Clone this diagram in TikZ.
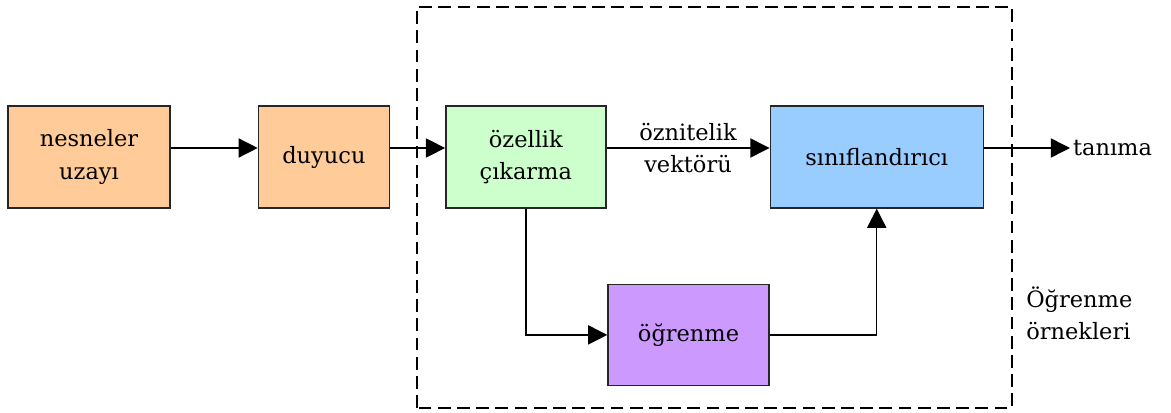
\documentclass[tikz,border=0pt]{standalone}
\usepackage{fontspec}
\setmainfont{DejaVu Serif}
\usepackage{tikz}
\usetikzlibrary{positioning, arrows.meta}
\definecolor{peach}{HTML}{FFCC99}
\definecolor{mint}{HTML}{CCFFCC}
\definecolor{sky}{HTML}{99CCFF}
\definecolor{lilac}{HTML}{CC99FF}
\tikzstyle{block} = [rectangle, minimum height=2.55cm, text centered, align=center, draw=black!85, line width=1pt]
\tikzstyle{arrow} = [line width=1pt, -{Triangle[length=0.48cm, width=0.48cm]}]
\tikzstyle{frame} = [line width=1.3pt, dash pattern=on 0.32cm off 0.16cm]
\def\linegap{23pt}

\begin{document}
\begin{tikzpicture}[font=\fontsize{16pt}{\linegap}\selectfont]
\useasboundingbox (0,0) rectangle (29.275,10.3);

% blocks outside the learning system
\node (nesne) [block, fill=peach, minimum width=4.05cm] at (2.225,6.375) {nesneler\\uzayı};
\node (duyucu) [block, fill=peach, minimum width=3.275cm, right=2.175cm of nesne] {duyucu};

% learning system
\draw [frame] (10.425,0.1) rectangle (25.3,10.125);
\node (ozellik) [block, fill=mint, minimum width=4cm, right=1.375cm of duyucu] {özellik\\çıkarma};
\node (sinif) [block, fill=sky, minimum width=5.325cm, right=4.075cm of ozellik] {sınıflandırıcı};
\node (ogrenme) [block, fill=lilac, minimum width=4.025cm, minimum height=2.525cm, below right=1.875cm and 0.02cm of ozellik.south east] {öğrenme};

\node (tanima) [anchor=west, inner sep=2pt] at (26.75,6.6) {tanıma};
\node (ornek) [anchor=west, align=left, inner sep=0pt] at (25.65,2.475) {Öğrenme\\örnekleri};

\coordinate (hat) at (0,6.6);

\draw [arrow] (nesne.east |- hat) -- (duyucu.west |- hat);
\draw [arrow] (duyucu.east |- hat) -- (ozellik.west |- hat);
\draw [arrow] (ozellik.east |- hat) -- node[align=center] {öznitelik\\vektörü} (sinif.west |- hat);
\draw [arrow] (sinif.east |- hat) -- (tanima.west);

\draw [arrow] (ozellik.south) |- (ogrenme.west);
\draw [arrow] (ogrenme.east) -| (sinif.south);

\end{tikzpicture}
\end{document}
